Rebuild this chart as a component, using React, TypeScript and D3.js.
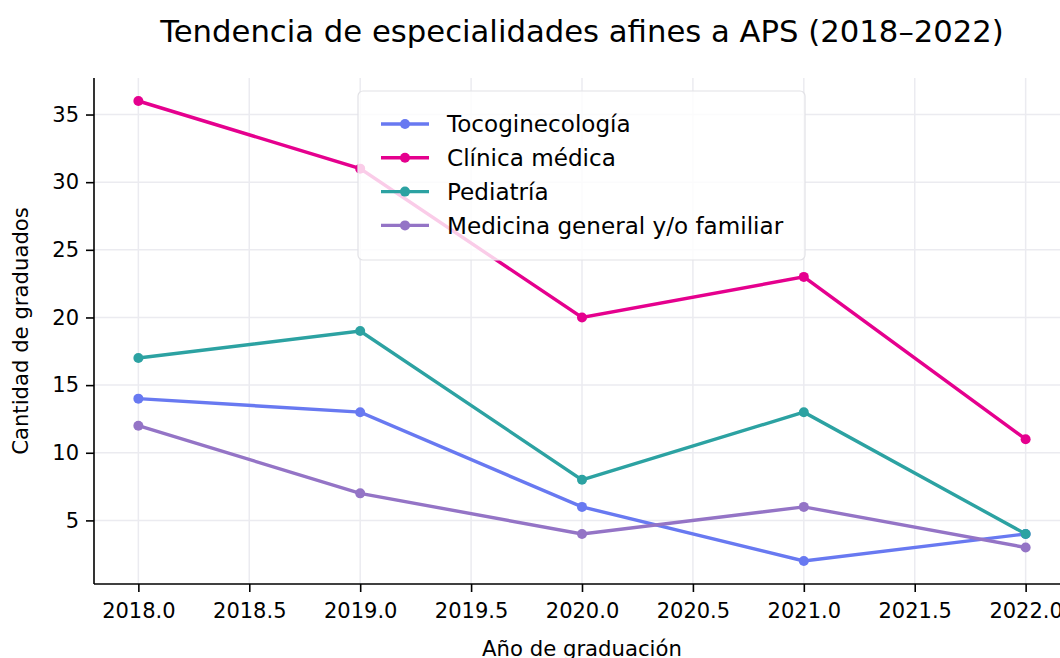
import React, { useEffect, useRef } from 'react';
import * as d3 from 'd3';

const years = [2018, 2019, 2020, 2021, 2022];
const seriesNames = ['Tocoginecología', 'Clínica médica', 'Pediatría', 'Medicina general y/o familiar'];
const tocoginecologia = [14, 13, 6, 2, 4];
const clinicaMedica = [36, 31, 20, 23, 11];
const pediatria = [17, 19, 8, 13, 4];
const medicinaGeneral = [12, 7, 4, 6, 3];
const seriesColors = ['#6879f1', '#e5008e', '#2ca2a2', '#9474c6'];
const xTicks = [2018.0, 2018.5, 2019.0, 2019.5, 2020.0, 2020.5, 2021.0, 2021.5, 2022.0];
const yTicks = [5, 10, 15, 20, 25, 30, 35];

const FONT = 'DejaVu Sans, sans-serif';

const App = () => {
    const svgRef = useRef<SVGSVGElement>(null);
    const width = 1060;
    const height = 658;
    const margin = { top: 78, left: 94, bottom: 74, right: -10 };
    const innerWidth = width - margin.left - margin.right;
    const innerHeight = height - margin.top - margin.bottom;

    useEffect(() => {
        const svg = d3.select(svgRef.current);
        svg.selectAll('*').remove();

        const values = [tocoginecologia, clinicaMedica, pediatria, medicinaGeneral];

        const xScale = d3.scaleLinear().domain([2017.8, 2022.2]).range([0, innerWidth]);
        const yScale = d3.scaleLinear().domain([0.3, 37.7]).range([innerHeight, 0]);

        svg.append('text')
            .attr('x', margin.left + innerWidth / 2)
            .attr('y', 42)
            .attr('text-anchor', 'middle')
            .style('font-family', FONT)
            .style('font-size', '30.7px')
            .text('Tendencia de especialidades afines a APS (2018–2022)');

        const g = svg.append('g').attr('transform', `translate(${margin.left}, ${margin.top})`);

        // grid
        g.selectAll('.vgrid').data(xTicks).enter().append('line')
            .attr('x1', d => xScale(d)).attr('x2', d => xScale(d))
            .attr('y1', 0).attr('y2', innerHeight)
            .attr('stroke', '#ebebf0').attr('stroke-width', 1.5);
        g.selectAll('.hgrid').data(yTicks).enter().append('line')
            .attr('y1', d => yScale(d)).attr('y2', d => yScale(d))
            .attr('x1', 0).attr('x2', innerWidth)
            .attr('stroke', '#ebebf0').attr('stroke-width', 1.5);

        const xAxis = d3.axisBottom(xScale).tickValues(xTicks).tickFormat(d3.format('.1f')).tickSize(8).tickPadding(11);
        const yAxis = d3.axisLeft(yScale).tickValues(yTicks).tickSize(8).tickPadding(7);

        const xg = g.append('g').attr('transform', `translate(0, ${innerHeight})`).call(xAxis);
        const yg = g.append('g').call(yAxis);
        [xg, yg].forEach(ax => {
            ax.select('.domain').attr('stroke', '#000').attr('stroke-width', 1.6);
            ax.selectAll('.tick line').attr('stroke', '#000').attr('stroke-width', 1.6);
            ax.selectAll('.tick text').style('font-family', FONT).style('font-size', '21px').attr('fill', '#000');
        });
        yg.select('.domain').attr('d', `M0,${innerHeight}V0`);
        xg.select('.domain').attr('d', `M0,0H${innerWidth}`);

        svg.append('text')
            .attr('x', margin.left + (xScale(2022.2) - xScale(2017.8)) / 2)
            .attr('y', 656)
            .attr('text-anchor', 'middle')
            .style('font-family', FONT)
            .style('font-size', '21.2px')
            .text('Año de graduación');

        svg.append('text')
            .attr('transform', `translate(28, ${margin.top + innerHeight / 2}) rotate(-90)`)
            .attr('text-anchor', 'middle')
            .style('font-family', FONT)
            .style('font-size', '21.2px')
            .text('Cantidad de graduados');

        const line = d3.line<number>()
            .x((d, i) => xScale(years[i]))
            .y(d => yScale(d));

        values.forEach((vals, si) => {
            g.append('path')
                .datum(vals)
                .attr('fill', 'none')
                .attr('stroke', seriesColors[si])
                .attr('stroke-width', 3.4)
                .attr('d', line);
            g.selectAll(`.pt${si}`).data(vals).enter().append('circle')
                .attr('cx', (d, i) => xScale(years[i]))
                .attr('cy', d => yScale(d))
                .attr('r', 5)
                .attr('fill', seriesColors[si]);
        });

        // legend
        const lg = svg.append('g').attr('transform', 'translate(358, 91)');
        lg.append('rect')
            .attr('width', 447).attr('height', 169)
            .attr('rx', 5)
            .attr('fill', 'rgba(255,255,255,0.8)')
            .attr('stroke', '#e2e2e6')
            .attr('stroke-width', 1.2);
        seriesNames.forEach((name, i) => {
            const cy = 33 + i * 33.8;
            lg.append('line')
                .attr('x1', 23).attr('x2', 71)
                .attr('y1', cy).attr('y2', cy)
                .attr('stroke', seriesColors[i]).attr('stroke-width', 3.4);
            lg.append('circle').attr('cx', 47).attr('cy', cy).attr('r', 5).attr('fill', seriesColors[i]);
            lg.append('text')
                .attr('x', 89).attr('y', cy)
                .attr('dy', '0.36em')
                .style('font-family', FONT)
                .style('font-size', '23.1px')
                .text(name);
        });
    }, []);

    return (
        <svg ref={svgRef} width={width} height={height} style={{ position: 'absolute', left: 0, top: 0 }} />
    );
};

export default App;
